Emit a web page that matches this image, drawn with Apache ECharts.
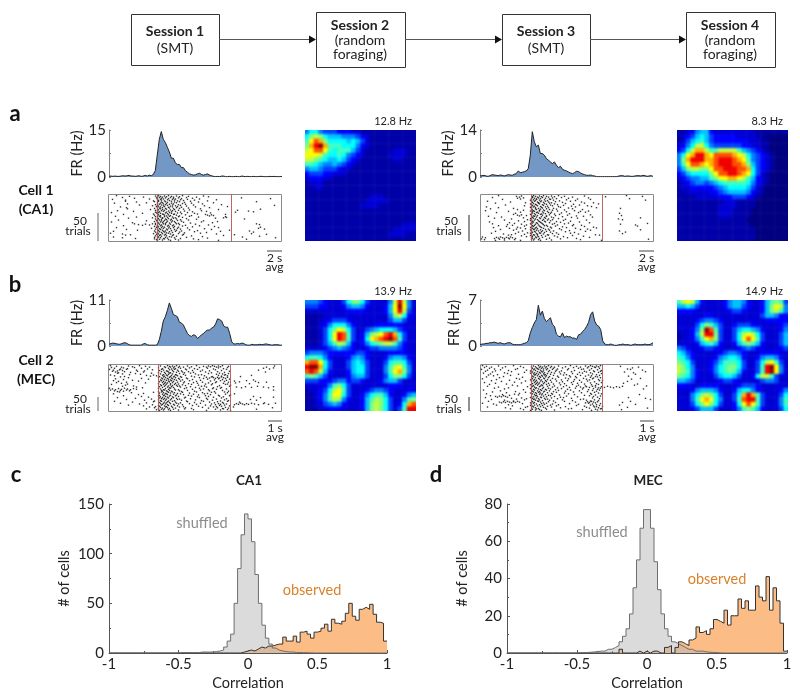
<!DOCTYPE html>
<html><head><meta charset="utf-8">
<style>html,body{margin:0;padding:0;background:#fff}#wrap{position:relative;width:800px;height:699px}#c{width:800px;height:699px}
.hm{position:absolute;overflow:hidden;width:111px;height:111px}.hm>div{position:absolute;left:-5px;top:-5px;width:121px;height:121px;filter:blur(1.1px)}</style>
<script src="https://cdn.jsdelivr.net/npm/echarts@6/dist/echarts.min.js"></script>
</head><body><div id="wrap"><div id="c"></div></div>
<script>
const FONT='Lato';
const histTicks=['-1','-0.5','0','0.5','1'];
// peri-stimulus firing rate (Hz), one value per time bin
const psthA1=[.2,.3,.2,.3,.2,.2,.3,.4,.3,.4,.5,.3,.3,.2,.3,.4,.2,.3,.5,.3,.6,.4,.8,2,7,12,14.5,12,11,9.5,8,6,6,4.5,4,4,3,3,2,1.5,1,.8,.6,.7,1,1.2,.8,.6,.8,1,.6,.4,.2,.1,.2,.1,.3,.3,.1,.1,.2,.1,.1,.2,.1,.1,.3,.2,.1,.2,.1,.1,.2,.1,.1,.2,.2,.1,.1,.1,.2,.1,.2,.1,.1,.1,.2];
const psthA2=[.3,.4,.5,.3,.2,.4,.7,.6,.5,.4,.6,.5,.3,.5,.7,.6,.5,.8,1,1.8,1.3,1.4,1.6,1.8,2.5,6.5,13.5,10.5,9,9.5,7,7,6.5,5.5,5,4.5,4,4.5,3.5,2.8,3.2,2.3,2,1.8,1.5,1.2,1,1.3,1.7,1.6,1.2,.9,.7,.5,.5,.6,.4,.3,.1,.1,.1,.1,.1,.1,.1,.1,.1,.1,.1,.3,.4,.4,.2,.3,.3,.2,.2,.3,.4,.4,.3,.5,.4,.2,.3,.4,.2];
const psthB1=[.4,.6,.7,.6,.5,.4,.5,.7,.8,.6,.3,.2,.2,.2,.2,.2,.2,.5,.6,.3,.2,.2,.2,.2,.3,1.5,3.5,6,7,8.5,10.3,9,7.5,7.3,7,5.7,5.5,5,4,3,2.5,2.3,2.7,2.5,1.8,2.2,2.7,3,3.5,3.8,3.8,4.3,4.5,5.3,6.5,6.3,6,4.8,4.5,4.5,3,1,.5,.5,.6,.5,.7,.6,.3,.2,.2,.4,.3,.3,.3,.4,.3,.4,.5,.4,.3,.2,.3,.3,.3,.2,.2];
const psthB2=[.2,.3,.3,.4,.4,.5,.5,.6,.5,.4,.5,.4,.3,.4,.5,.5,.3,.2,.2,.2,.2,.3,.4,.5,.8,2,2.8,3.5,4,6.2,4.7,5.3,4.2,3.7,4,4.3,3.3,3,1.8,1.5,1.4,2,1.3,1.5,1.4,1.4,1.2,1.2,1,1.7,1.8,2.2,2.5,3,3.6,4.8,5.2,3.8,3.2,3,2.5,.8,.3,.2,.2,.3,.2,.1,.1,.2,.2,.3,.2,.2,.2,.1,.2,.3,.2,.2,.2,.2,.3,.2,.2,.3,.5];
// raster: one list of spike times per group of trials, top to bottom
const rasterA1=[[8,21,35,47,49,50,52,54,56,58,60,63,65,68,71,74,80,88,95,100],[14,26,41,48,49,51,53,55,57,60,62,65,67,70,73,78,84,91,133,162],[4,17,45,49,50,52,53,56,59,61,64,66,69,72,75,79,86,99,108],[17,28,38,46,49,50,53,54,57,59,63,66,68,71,76,82,90,105,148],[6,19,47,49,51,52,55,57,58,61,63,65,70,74,77,83,94,113],[31,44,48,49,50,53,55,56,59,62,64,67,69,72,78,85,96,119,166],[12,18,46,49,51,52,54,57,60,61,64,68,71,73,80,87,101],[19,42,47,49,50,52,54,56,58,62,65,66,70,75,81,92,110,129,152],[9,25,47,49,51,53,55,58,60,63,64,67,72,76,84,93,98,127,140,145],[3,34,45,48,49,50,52,54,57,59,61,63,66,69,73,79,86,89,102],[15,46,49,50,52,55,56,58,60,62,65,68,71,77,83,97,99,101,103,105,117],[7,28,44,47,49,51,52,54,56,59,61,64,67,70,74,81,90,115,117,118],[20,47,49,50,53,54,57,58,60,63,65,68,72,78,88,107,136],[10,38,46,48,49,51,53,55,56,59,62,64,66,69,73,80,95,109],[3,24,47,49,50,52,54,57,58,61,63,67,70,75,82,93,104],[26,30,34,37,41,44,47,49,51,53,55,57,60,62,65,68,71,77,87,100,148,151],[15,46,48,49,50,52,54,56,59,61,64,66,70,74,84,91,106,152],[8,43,47,49,51,53,55,58,60,62,65,69,72,79,96,110,150,156],[18,29,46,49,50,52,54,57,59,63,66,68,73,81,89,103,121,141],[5,47,49,51,53,55,56,58,61,64,67,71,76,86,98,112,145],[2,14,22,45,48,49,50,52,54,57,60,62,65,70,75,92,108,126,143,158],[17,47,49,51,53,56,58,61,64,68,74,83,94,115,151],[5,14,27,46,49,50,52,55,57,59,63,66,72,78,99,134,167],[46,48,49,51,54,56,60,62,67,70,85,90,110,138]];
const rasterA2=[[18,36,39,41,52,53,55,57,59,61,63,66,68,71,74,78,84,92,104,125,146,162],[12,37,40,43,51,52,54,56,58,60,62,65,69,72,76,81,88,97,108,149],[22,50,51,53,55,56,59,61,64,67,70,73,79,86,95,110,165],[7,30,45,51,52,54,57,58,60,63,65,68,71,75,82,90,101,113],[15,50,51,53,55,58,59,62,64,66,69,74,77,85,93,104,118],[25,44,51,52,54,56,57,60,63,67,70,72,78,83,91,99,107,111],[6,18,33,50,51,53,55,58,61,62,65,68,73,80,88,95,116,140],[10,37,43,51,52,55,56,59,60,63,66,69,72,76,84,92,102],[5,28,40,50,52,53,54,57,59,62,64,67,71,77,86,94,100,105,108],[16,35,51,52,54,56,58,61,63,65,68,70,74,81,89,98,139],[33,37,39,41,46,50,51,53,55,57,60,62,66,69,75,79,87,96,110,141],[8,21,43,51,52,54,56,59,61,64,66,71,73,82,91,103,112,160],[14,31,47,50,51,53,55,57,60,63,65,68,72,78,85,97,138,142],[24,38,44,50,52,54,58,59,62,64,67,70,76,83,90,106],[9,29,34,51,52,53,56,57,60,61,65,69,74,80,88,99,109,167],[12,27,32,41,46,50,51,54,55,58,62,63,66,72,77,84,93,101,140,155],[18,26,37,44,51,52,53,56,59,60,64,67,70,75,82,92,104,113,157],[13,29,36,40,45,50,52,54,55,57,61,63,68,71,79,86,95,107,116],[20,33,42,50,51,53,56,58,60,62,65,69,73,81,89,100,110,139,160],[15,38,47,51,52,54,55,59,61,64,66,70,76,85,94,105,145],[11,23,31,35,44,50,51,53,56,57,60,63,67,72,78,90,98,115,142],[28,41,46,50,52,54,57,58,61,65,68,74,83,92,103,119],[2,5,14,16,18,20,22,24,26,28,30,32,35,51,52,55,56,59,62,69,77,87,96,109],[1,4,15,19,24,29,34,40,51,53,54,58,60,66,71,80,100,121,168]];
const rasterB1=[[2,8,13,20,24,31,37,41,52,56,59,61,62,64,66,68,71,75,79,83,88,95,98,100,102,104,106,108,110,112,114,120,158,166],[3,6,12,15,19,26,33,39,50,54,57,60,63,65,67,70,72,77,81,86,91,99,105,110,115,119,155,161,165],[1,5,9,11,14,18,28,36,44,51,53,55,58,61,64,66,69,73,78,84,89,94,101,107,113,118,150],[4,7,10,16,22,29,35,50,53,56,59,60,62,65,68,70,74,76,80,85,92,97,103,109,116,121,157],[9,14,21,27,32,43,52,55,57,60,61,64,67,71,75,82,87,93,100,108,111,114,117,120],[2,6,16,38,42,45,48,51,54,56,58,59,62,63,66,68,69,72,77,83,90,96,104,110,113,116,119,132,143],[12,20,33,50,53,55,57,59,61,63,65,67,70,73,78,86,91,95,98,101,103,105,107,109,111,113,115,117,119],[7,15,24,40,52,54,56,58,60,62,64,66,68,71,74,79,84,92,99,106,110,114,118,121,145],[5,10,18,30,51,53,55,57,60,61,63,65,69,72,76,81,88,94,102,108,112,116,120,126,131,138,147,158],[8,13,19,37,50,54,56,58,59,62,64,67,70,75,80,85,89,97,100,104,107,115,119,127,141,150],[3,17,25,52,53,55,57,60,62,64,66,68,71,74,77,83,90,96,103,111,117,122],[14,28,34,51,54,56,59,61,63,65,69,72,78,82,87,93,98,105,109,113,121,128,133,137,143,149,155,160,165],[1,4,7,10,13,16,19,22,25,28,50,52,55,57,60,62,66,70,76,84,91,95,100,104,108,112,118],[2,6,9,12,15,18,21,50,53,54,56,58,59,61,63,67,71,73,79,86,92,101,106,114,120,165],[11,23,35,45,51,53,55,57,60,62,64,66,69,74,81,88,94,99,103,107,116,119],[5,30,51,54,56,58,59,62,65,68,72,75,80,85,90,96,102,110,117,122,126],[15,33,40,50,52,55,57,59,61,64,67,70,77,83,89,97,100,105,111,115,121,145,165],[9,27,43,51,53,54,56,58,60,63,65,68,71,76,82,91,98,108,113,118,152],[18,36,46,50,52,55,57,60,62,66,69,73,78,87,93,99,104,112,116,120,142,148],[6,24,38,45,51,53,56,58,59,61,64,67,72,79,86,95,101,106,109,114,119,131,156],[12,31,44,52,54,55,57,59,62,65,68,70,74,81,88,92,103,107,110,112,115,118,126,128,130,132,134,136,138,140,143,146,150,155,160,167],[20,35,47,50,51,53,56,58,60,63,66,69,75,84,90,97,102,108,111,113,116,121],[41,46,50,52,54,57,59,61,64,67,71,77,83,94,100,105,109,114,117,120,125,164],[38,48,51,53,55,56,60,62,65,70,76,85,98,107,112,115,119,122,148]];
const rasterB2=[[2,6,11,18,25,33,40,51,53,55,58,60,62,64,66,68,71,74,78,85,90,96,100,105,108,110,112,114,116,118,120,140,158],[4,9,14,22,37,43,52,54,56,57,59,61,63,65,67,70,73,77,82,88,93,98,103,107,111,115,119,147,152],[1,7,15,20,28,35,46,50,53,55,58,60,63,66,69,72,76,81,87,94,101,109,113,117,121,150,162],[5,12,24,31,44,51,52,54,57,59,61,62,64,68,71,75,79,84,91,99,104,106,110,114,118,120,144,153,165],[3,10,17,27,38,50,53,55,56,58,60,63,65,67,70,74,80,86,92,97,102,112,116,121,155],[8,13,23,30,52,54,57,59,61,62,64,66,69,73,77,83,89,95,100,105,108,111,115,119,148],[6,19,36,42,51,53,55,58,60,63,65,68,72,78,85,90,96,103,110,113,117,120,160],[2,16,29,39,50,52,54,56,59,61,64,67,70,75,81,88,94,99,106,109,112,118,122,151],[11,21,34,45,51,53,55,57,60,62,65,66,71,76,82,87,93,101,107,114,119,147],[4,15,26,41,52,54,56,58,59,63,64,68,73,79,84,91,97,104,110,116,121,143,157],[9,32,37,50,53,55,57,60,61,62,66,69,74,80,86,92,98,105,111,115,118,154,166],[7,18,28,47,51,52,54,56,59,63,67,72,77,83,89,96,100,103,106,109,112,115,118,121,124,127,130,133,136,139,142],[14,24,43,50,53,55,58,60,62,65,68,70,75,81,87,95,102,108,113,117,120,163],[3,20,35,51,52,54,57,59,61,64,66,69,73,78,85,90,99,107,112,116,119],[12,26,39,45,50,53,55,56,58,60,63,67,71,76,84,93,101,110,114,118],[6,22,29,34,38,52,54,56,59,61,62,65,68,72,79,88,94,104,111,115,121,159],[10,15,17,19,21,23,25,27,51,53,55,57,60,63,66,70,74,80,86,97,109,113,117,120],[5,31,36,41,46,50,52,54,56,58,61,64,67,71,77,83,91,103,112,119,148,165],[11,24,33,44,51,53,55,57,59,62,65,69,73,82,92,100,106,110,114,118,170],[8,19,21,23,25,27,29,31,33,35,37,39,50,52,54,58,60,63,68,75,84,95,105,107,109,111,113,115,117,142,150],[2,13,28,42,51,53,56,59,61,64,66,72,78,89,98,108,112,116,120,155],[16,32,47,50,52,54,57,60,62,67,70,76,85,96,104,110,113,116,119,122,139],[7,25,40,45,51,53,55,58,63,65,71,80,91,106,109,114,118,121,147,167],[30,43,50,52,55,56,59,61,66,74,88,102,111,115,117,120,141]];
const rasterMarksA1=[49,123],rasterMarksA2=[50.5,122],rasterMarksB1=[50,122],rasterMarksB2=[50.5,122];
// firing-rate maps, top row first, one hex level per cell (0 low, F high)
const heatA1=["577544433322111111111111","79A976665554321111111111","8BDC97777676421111111111","9CEFC8887775321111111111","ABDDB8788864211111122211","BBBA87787543211111222211","AA9876676432111111122111","887655654321111111111111","566544432211111111111111","344433222111111111111111","233322111111111111111111","122211111111111111111111","112211111111111111111111","111111111111111111111111","111111111111112221111111","111111111111122222111111","111111111111222211111111","111111111111111111111111","111111111111111111111111","111111111111111111111111","111111111111111111111222","111111111111111111122222","111111111111111111222211","111111111111111111111111"];
const heatA2=["112356632222222221111111","123467643333322221100000","124678643333333222110000","2357AA754444443322110000","347ACCA88AAAA86543210000","57BCEECBDDDDCBA754321000","59CEEECCDEEEDCB854321000","58BDDCBCDEEEDDC964321000","469AA99BDDEEEDDC74321000","34677779BDDEEDCB74210000","234556689BBCCBA863210000","123455456788888753210000","122333334567777642100000","112222233456666532100000","111122222333444321000000","111111111122211110000000","111111111222211110000000","111111111222111100000000","111111111222111100000000","111111111111111000000000","111111111111111100000000","111111111111111110000000","111111111111111110000000","111111111111111110000000"];
const heatB1=["5554322247997422225AEA52","4443322235665322236BFB52","2222222223333222236BEA42","11112222222222222259A732","111223444322222222466422","111235777532222333333222","1112479BA742245677764322","111247BED842369ABDEC7422","111247BED84237BCDEFD8422","1112468A963235789AA85322","222234565432234455554322","455543333334432222333322","788753222356532223566532","CDDB74222467642224788742","EFFC742224677422258AB852","DEDA632223677422258BC952","898642222356642224799742","444333455344322235664222","222235897422222222333222","122347AB8422234554322232","112358BB7422357886322356","112358A95322368A97422589","112245653222369A974237CD","111223332222369A974248EE"];
const heatB2=["8ABA63222235665322368984","667642222235664322369BA5","333322222223443222369A85","222222332222222222466533","222234554322222222233333","222247986422344433222234","222359FD8422467765322235","12236AEE942247ABA7422246","122358BC942247BDB8422246","222236786322368986322246","543223443222234543222234","764322222345543222333322","875322223567763223566532","9874222346888742247AB842","A975222357899742248EFB52","A985322357898632248EFB52","987532224677642237AA8422","665422222344322222455422","333223333222234443222222","222356665322367753222235","222579A9742247CEC8422247","22258BCB752248DEE8422258","222479B9742237BDB8422258","222346664222358986322247"];
// correlation histograms, 80 bins from -1 to 1
const shuffledC=[0,0,0,0,0,0,0,0,0,0,0,0,0,0,0,0,0,0,0,0,.5,.5,.5,.5,.5,.5,1,1,1,1,1.5,2,3,6,12,19,50,85,119,140,135,112,79,50,28,15,9,5,3,2,1.5,1,1,.5,.5,.3,.3,.2,0,0,0,0,0,0,0,0,0,0,0,0,0,0,0,0,0,0,0,0,0,0];
const observedC=[0,0,0,0,0,0,0,0,0,0,0,0,0,0,0,0,0,0,0,0,0,0,0,0,0,0,0,0,0,0,0,0,0,0,0,0,0,0,1,2,3,2,4,6,5,7,7,8,9,9,16,12,12,17,11,21,22,19,15,21,22,25,29,22,34,30,29,32,40,50,37,33,44,46,44,49,39,31,30,12];
const shuffledD=[0,0,0,0,0,0,0,0,0,0,0,0,0,0,0,0,0,0,0,0,.2,.2,.3,.4,.6,.8,1,1,2,2,3,4,6,9,13,21,35,50,67,77,77,67,49,34,21,13,9,6,5,4,3,2,2,1,1,1,.6,.4,.3,.2,.1,0,0,0,0,0,0,0,0,0,0,0,0,0,0,0,0,0,0,0];
const observedD=[0,0,0,0,0,0,0,0,0,0,0,0,0,0,0,0,0,0,0,0,0,0,0,0,0,0,0,0,0,0,0,0,2,0,0,0,0,1,0,1,0,1,1,0,0,3,4,0,3,6,5,4,7,8,14,11,12,10,13,18,17,16,23,15,20,20,29,24,28,23,23,36,30,28,41,23,35,28,16,1];
const heatColors=['#000080','#0000a8','#0000d4','#0000ff','#0040ff','#0080ff','#00c0ff','#00ffff','#40ffc0','#80ff80','#c0ff40','#ffff00','#ffb000','#ff5000','#f00000','#900000'];

const grid=[],xAxis=[],yAxis=[],series=[];
function addGrid(g,x,y){const i=grid.length;grid.push(g);xAxis.push(Object.assign({gridIndex:i},x));yAxis.push(Object.assign({gridIndex:i},y));return i;}
const axGray='#7f7f7f';
function psth(left,top,w,h,vals,max){
  const i=addGrid({left,top,width:w,height:h},
   {type:'value',min:0,max:vals.length-1,show:false},
   {type:'value',min:0,max,interval:max,position:'left',
    name:'FR (Hz)',nameLocation:'middle',nameRotate:90,nameGap:18,nameTextStyle:{fontFamily:FONT,fontSize:14.5,color:'#222'},
    axisLine:{show:true,onZero:false,lineStyle:{color:axGray}},axisTick:{show:true,inside:true,length:2,lineStyle:{color:axGray}},
    minorTick:{show:true,splitNumber:2,length:2,lineStyle:{color:axGray}},splitLine:{show:false},minorSplitLine:{show:false},
    axisLabel:{margin:3,fontFamily:FONT,fontSize:15,color:'#222'}});
  series.push({type:'line',xAxisIndex:i,yAxisIndex:i,data:vals.map((v,k)=>[k,v]),showSymbol:false,silent:true,
    lineStyle:{color:'#222',width:1},areaStyle:{color:'#7398c6',opacity:1}});
}
function raster(left,top,w,h,rows,marks){
  const i=addGrid({left,top,width:w,height:h,show:true,borderColor:'#8a8a8a',borderWidth:1,backgroundColor:'#fff'},
   {type:'value',min:0,max:173,show:false},{type:'value',min:0,max:rows.length+1,inverse:true,show:false});
  // each list covers a group of trials: successive spikes land on different trials of the group
  const pts=[];rows.forEach((r,k)=>r.forEach((t,j)=>pts.push([t,k+1+((j*7)%5-2)*.2])));
  series.push({type:'scatter',xAxisIndex:i,yAxisIndex:i,data:pts,symbol:'rect',symbolSize:1.4,silent:true,
    itemStyle:{color:'#111',opacity:.85},
    markLine:{silent:true,symbol:'none',animation:false,label:{show:false},lineStyle:{color:'#b8534e',width:.9,type:'solid'},data:marks.map(m=>({xAxis:m}))}});
}
function hist(left,top,w,h,shuf,obs,max,step){
  const i=addGrid({left,top,width:w,height:h},
   {type:'value',min:-1,max:1,interval:.5,name:'Correlation',nameLocation:'middle',nameGap:23,nameTextStyle:{fontFamily:FONT,fontSize:14.5,color:'#222'},
    axisLine:{show:true,onZero:false,lineStyle:{color:'#555'}},axisTick:{show:true,inside:true,length:3,lineStyle:{color:'#555'}},
    minorTick:{show:true,splitNumber:2,length:2,lineStyle:{color:'#555'}},splitLine:{show:false},
    axisLabel:{margin:4,fontFamily:FONT,fontSize:15,color:'#222',formatter:v=>histTicks[Math.round((v+1)*2)]}},
   {type:'value',min:0,max,interval:step,name:'# of cells',nameLocation:'middle',nameRotate:90,nameGap:37,nameTextStyle:{fontFamily:FONT,fontSize:14.5,color:'#222'},
    axisLine:{show:true,onZero:false,lineStyle:{color:'#555'}},axisTick:{show:true,inside:true,length:3,lineStyle:{color:'#555'}},
    minorTick:{show:true,splitNumber:2,length:2,lineStyle:{color:'#555'}},splitLine:{show:false},
    axisLabel:{margin:5,fontFamily:FONT,fontSize:15,color:'#222'}});
  const mk=a=>a.map((v,k)=>[-1+k*.025,v]).concat([[1,a[a.length-1]]]);
  series.push({type:'line',xAxisIndex:i,yAxisIndex:i,data:mk(obs),step:'end',showSymbol:false,silent:true,lineStyle:{color:'#333',width:1},areaStyle:{color:'#fbbd85',opacity:1}});
  series.push({type:'line',xAxisIndex:i,yAxisIndex:i,data:mk(shuf),step:'end',showSymbol:false,silent:true,lineStyle:{color:'#6e6e6e',width:1},areaStyle:{color:'#b8b8b8',opacity:.5}});
}
psth(109,130,173,47,psthA1,15);psth(480,130,173,47,psthA2,14);psth(109,300,173,46,psthB1,11);psth(480,300,173,46,psthB2,7);
raster(108.5,194.5,173,47,rasterA1,rasterMarksA1);raster(480.5,194.5,173,47,rasterA2,rasterMarksA2);
raster(108.5,364.5,173,47,rasterB1,rasterMarksB1);raster(480.5,364.5,173,47,rasterB2,rasterMarksB2);
hist(109,504,278,149,shuffledC,observedC,150,50);
hist(507,504,280,149,shuffledD,observedD,80,20);

const g=[];
function txt(x,y,t,o){g.push({type:'text',x,y,silent:true,style:Object.assign({text:t,fontFamily:FONT,fontSize:14,fill:'#222',textAlign:'center',textVerticalAlign:'middle'},o||{})});}
function ln(x1,y1,x2,y2,c,w){g.push({type:'line',silent:true,shape:{x1,y1,x2,y2},style:{stroke:c||'#222',lineWidth:w||1}});}
function box(x,y,w,h){g.push({type:'rect',silent:true,shape:{x:x+.5,y:y+.5,width:w,height:h},style:{fill:'#fff',stroke:'#333',lineWidth:1}});}
function arrow(x1,x2,y){ln(x1,y,x2-6,y,'#555',1.2);g.push({type:'polygon',silent:true,shape:{points:[[x2-7,y-4],[x2,y],[x2-7,y+4]]},style:{fill:'#111'}});}
box(131,14,88,51);box(316,12,89,55);box(502,14,88,51);box(686,12,89,55);
arrow(219,316,39.5);arrow(405,502,39.5);arrow(590,686,39.5);
const bold={fontWeight:'bold',fontSize:14};
txt(175,31,'Session 1',bold);txt(175,48,'(SMT)');
txt(360,25,'Session 2',bold);txt(360,40,'(random');txt(360,54,'foraging)');
txt(546,31,'Session 3',bold);txt(546,48,'(SMT)');
txt(730,25,'Session 4',bold);txt(730,40,'(random');txt(730,54,'foraging)');
const letter={fontWeight:'bold',fontSize:22,fill:'#111'};
txt(15,114,'a',letter);txt(15,285,'b',letter);txt(16,475,'c',letter);txt(436,475,'d',letter);
const cell={fontWeight:'bold',fontSize:14,fill:'#111'};
txt(36,190,'Cell 1',cell);txt(36,209,'(CA1)',cell);txt(36,360,'Cell 2',cell);txt(36,379,'(MEC)',cell);
const rate={fontSize:11,textAlign:'right'};
txt(412,121,'12.8 Hz',rate);txt(783,121,'8.3 Hz',rate);txt(412,291,'13.9 Hz',rate);txt(783,291,'14.9 Hz',rate);
const tr={fontSize:12};
[[80,98,213,241,221],[451,469,215,241,221],[80,98,397,411,399],[451,469,397,411,399]].forEach(a=>{
  ln(a[1],a[2],a[1],a[3],a[1]==98?'#666':'#222',1);txt(a[0],a[4],'50',tr);txt(a[0]-2,a[4]+10,'trials',tr);});
const sb={fontSize:12};
[[267,282,251,'2 s'],[639,654,251,'2 s'],[268,282,421,'1 s'],[640,654,421,'1 s']].forEach(a=>{
  ln(a[0],a[2],a[1],a[2],'#444',1);txt((a[0]+a[1])/2,a[2]+7.5,a[3],sb);txt((a[0]+a[1])/2,a[2]+16,'avg',sb);});
txt(249,481,'CA1',{fontWeight:'bold',fontSize:13.5});txt(648,481,'MEC',{fontWeight:'bold',fontSize:13.5});
txt(202,523,'shuffled',{fontSize:14.5,fill:'#8c8c8c'});txt(602,532,'shuffled',{fontSize:14.5,fill:'#8c8c8c'});
txt(312,590,'observed',{fontSize:14.5,fill:'#d9822b'});txt(717,579,'observed',{fontSize:14.5,fill:'#d9822b'});

echarts.init(document.getElementById('c')).setOption({animation:false,backgroundColor:'#fff',grid,xAxis,yAxis,series,graphic:{elements:g}});

// rate maps: one small chart each, softened like the reference's smoothed maps
function heat(left,top,rows){
  const holder=document.createElement('div');holder.className='hm';holder.style.left=left+'px';holder.style.top=top+'px';
  const inner=document.createElement('div');holder.appendChild(inner);document.getElementById('wrap').appendChild(holder);
  const n=rows.length,cats=[];for(let k=-1;k<=n;k++)cats.push(k);
  const cl=v=>Math.max(0,Math.min(n-1,v));
  const d=[];
  cats.forEach((r,ri)=>cats.forEach((c,ci)=>{d.push([ci,n+1-ri,parseInt(rows[cl(r)][cl(c)],16)]);}));
  echarts.init(inner).setOption({animation:false,
    grid:{left:0,top:0,right:0,bottom:0},
    xAxis:{type:'category',data:cats,show:false},yAxis:{type:'category',data:cats,show:false},
    visualMap:{show:false,type:'continuous',min:0,max:15,inRange:{color:heatColors}},
    series:[{type:'heatmap',data:d,silent:true,progressive:0}]});
}
heat(305,130,heatA1);heat(677,130,heatA2);heat(305,300,heatB1);heat(677,300,heatB2);
</script></body></html>
